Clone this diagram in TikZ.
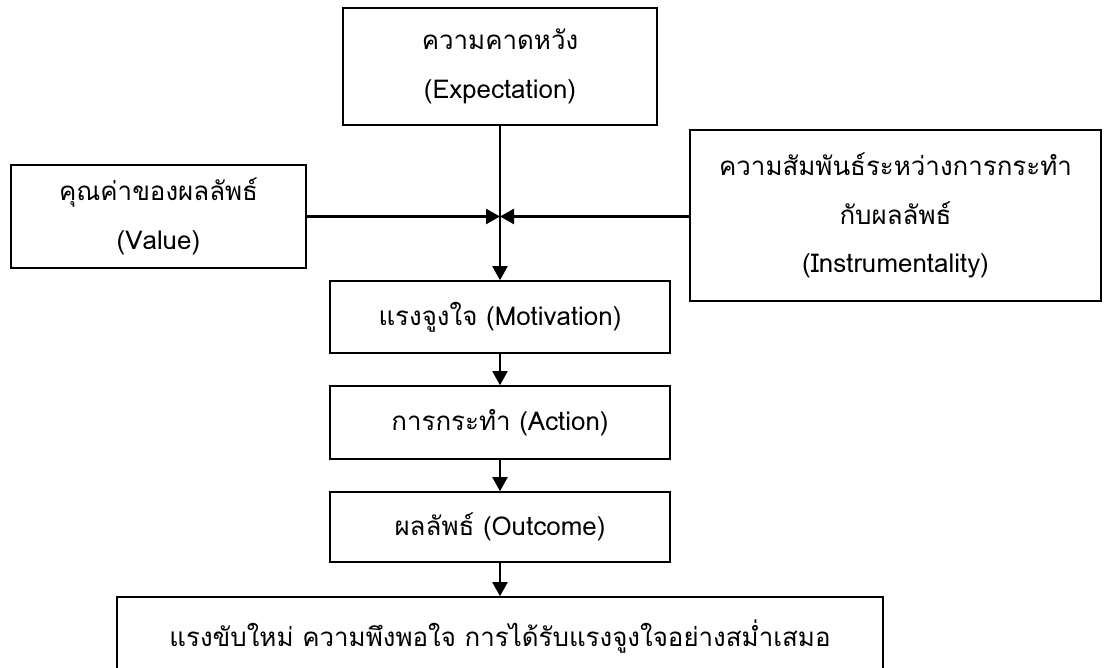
\documentclass[tikz,border=0pt]{standalone}
\usepackage{fontspec}
\setmainfont[Script=Thai]{Loma}
\usetikzlibrary{arrows.meta}

\begin{document}
\begin{tikzpicture}[x=1bp,y=-1bp,
    box/.style={draw, line width=1.6bp, align=center, inner sep=0pt,
      font=\fontsize{26}{49}\selectfont},
    flow/.style={-{Triangle[length=14bp,width=15bp]}, line width=2bp},
    side/.style={flow, line width=2.6bp}]
    \useasboundingbox (0,0) rectangle (1104,668);
    % boxes
    \node[box, minimum width=314bp, minimum height=117bp] (expect) at (500,66.5) {ความคาดหวัง\\(Expectation)};
    \node[box, minimum width=295bp, minimum height=103bp] (value) at (158.5,216.5) {คุณค่าของผลลัพธ์\\(Value)};
    \node[box, minimum width=411bp, minimum height=171bp] (instr) at (895.5,215.5) {ความสัมพันธ์ระหว่างการกระทำ\\กับผลลัพธ์\\(Instrumentality)};
    \node[box, minimum width=340bp, minimum height=72bp] (motiv) at (500,317) {แรงจูงใจ (Motivation)};
    \node[box, minimum width=340bp, minimum height=73bp] (action) at (500,422.5) {การกระทำ (Action)};
    \node[box, minimum width=340bp, minimum height=70bp] (outcome) at (500,527) {ผลลัพธ์ (Outcome)};
    \node[box, minimum width=766bp, minimum height=80bp] (result) at (500,637) {แรงขับใหม่ ความพึงพอใจ การได้รับแรงจูงใจอย่างสม่ำเสมอ};
    % arrows
    \coordinate (meet) at (expect.south |- value.east);
    \draw[flow] (expect.south) -- (motiv.north);
    \draw[side] (value.east) -- (meet);
    \draw[side] (instr.west |- meet) -- (meet);
    \foreach \a/\b in {motiv/action, action/outcome, outcome/result}
    \draw[flow] (\a.south) -- (\b.north);
\end{tikzpicture}
\end{document}
